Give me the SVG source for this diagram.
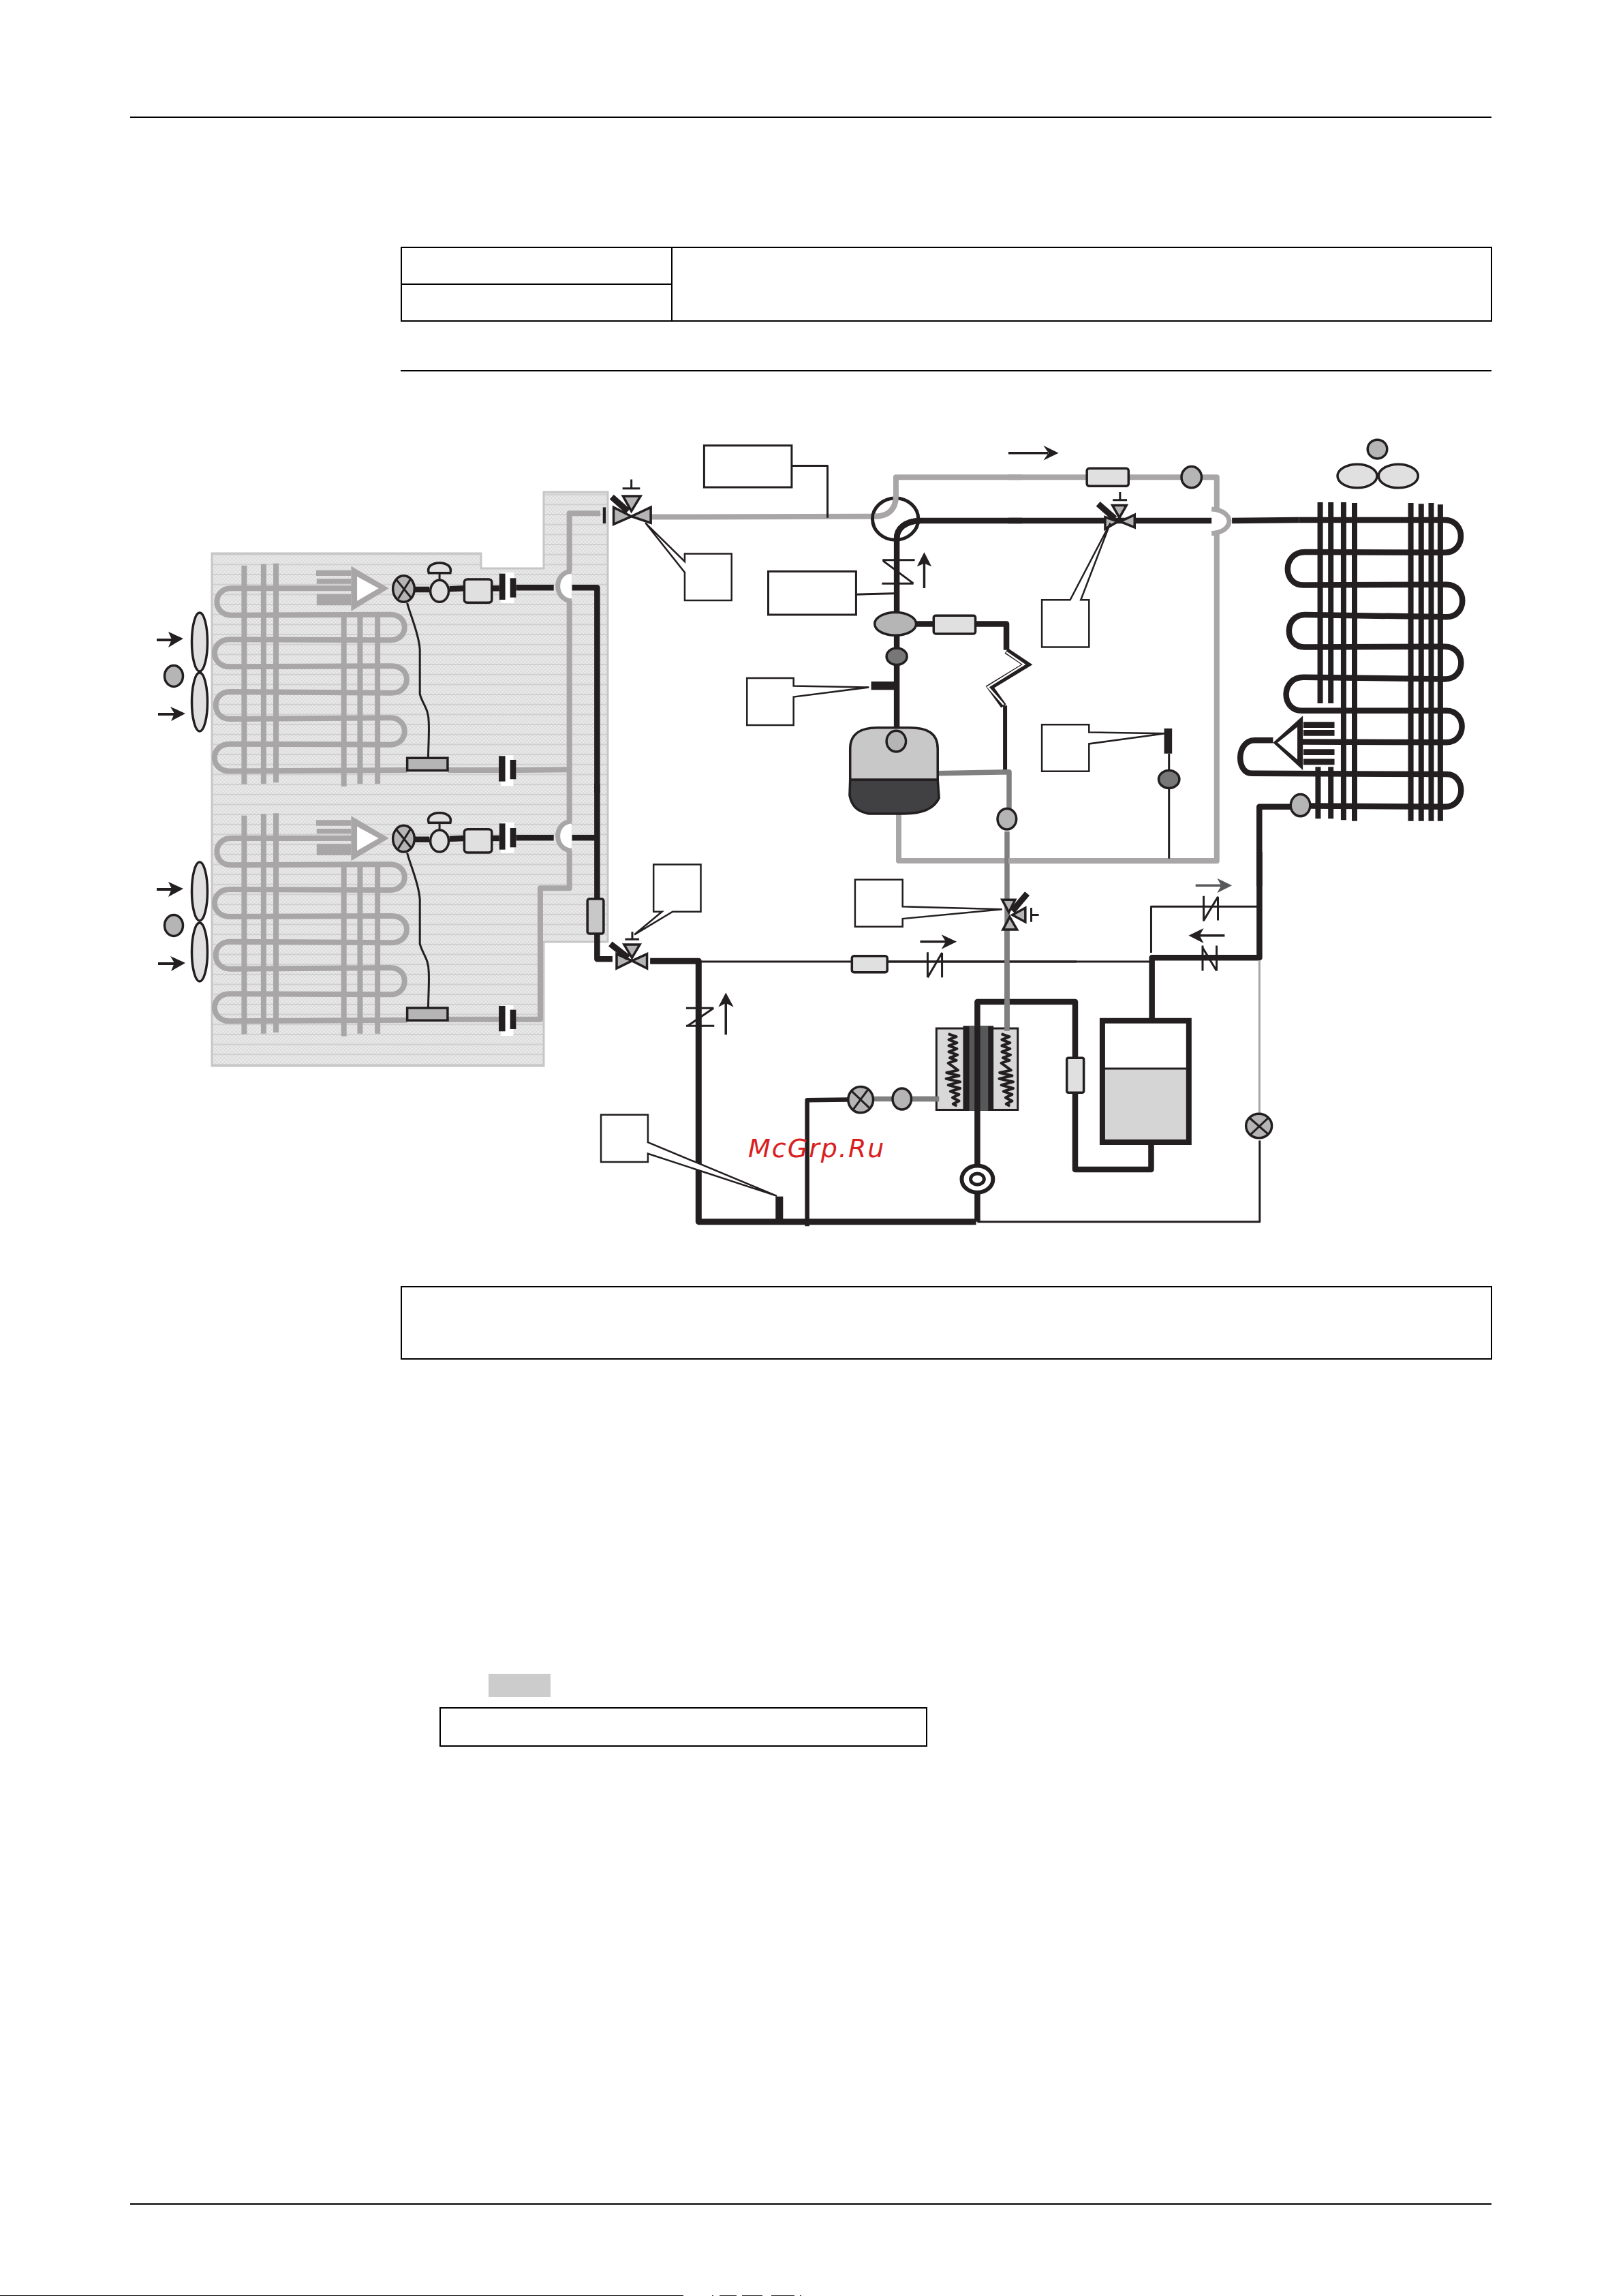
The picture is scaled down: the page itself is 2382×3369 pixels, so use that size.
<svg xmlns="http://www.w3.org/2000/svg" xmlns:xlink="http://www.w3.org/1999/xlink" width="2382" height="3369" viewBox="0 0 2382 3369">
<style>
svg * { vector-effect: non-scaling-stroke; }
.frame { fill: none; stroke: #000; stroke-width: 2; }
.g { fill: none; stroke: #a8a6a6; stroke-width: 8; stroke-linejoin: round; stroke-linecap: butt; }
.gf { stroke: #a8a6a6; stroke-width: 7; fill: #fff; }
.d { fill: none; stroke: #808080; stroke-width: 7.5; stroke-linejoin: round; }
.k { fill: none; stroke: #231f20; stroke-width: 8.5; stroke-linejoin: round; }
.k6 { fill: none; stroke: #231f20; stroke-width: 6; stroke-linejoin: round; }
.t { fill: none; stroke: #231f20; stroke-width: 3; stroke-linejoin: round; }
.fin { stroke: #a8a6a6; stroke-width: 8; fill: none; }
.finb { stroke: #231f20; stroke-width: 8; fill: none; }
.box { fill: #fff; stroke: #231f20; stroke-width: 3; }
.lead { fill: #fff; stroke: #231f20; stroke-width: 2.5; stroke-linejoin: miter; }
.l { fill: #e0e0e0; stroke: #231f20; stroke-width: 3.5; }
.m { fill: #b5b5b5; stroke: #231f20; stroke-width: 3.5; }
.dk { fill: #777; stroke: #231f20; stroke-width: 3.5; }
.fill { fill: #231f20; stroke: none; }
.bar { fill: #231f20; stroke: none; }
.act { stroke: #231f20; stroke-width: 9; fill: none; }
.sym { stroke: #231f20; stroke-width: 3; fill: none; }
.sym2 { stroke: #231f20; stroke-width: 3.5; fill: none; }
.mark { font-family: "DejaVu Sans", sans-serif; font-style: italic; font-size: 38px; fill: #d92020; letter-spacing: 2px; }
</style>
<defs>
  <pattern id="dither" width="2" height="2" patternUnits="userSpaceOnUse">
    <rect width="2" height="2" fill="#f0f0f0"/>
    <rect width="1" height="1" fill="#d6d6d6"/>
    <rect x="1" y="1" width="1" height="1" fill="#d6d6d6"/>
  </pattern>
  <pattern id="bands" width="40" height="14.67" patternUnits="userSpaceOnUse">
    <rect y="6" width="40" height="1.6" fill="#cbcbcf"/>
  </pattern>
  <g id="evap">
    <g class="fin">
      <path d="M173,390V1352M245,383V1350M291,380V1345M543,605V1362M603,605V1350M668,605V1350"/>
    </g>
    <path class="g" d="M590,490 L125,490 C54,490 54,608 125,608 L715,605 C786,605 786,718 715,718 L120,715 C44,715 44,835 120,835 L720,832 C795,832 795,950 720,950 L120,945 C50,945 50,1065 120,1065 L715,1060 C786,1060 786,1178 715,1178 L120,1175 C44,1175 44,1295 120,1295 L778,1290"/>
    <path fill="#a8a6a6" d="M570,392 L710,490 L570,590 Z"/>
    <path fill="#fff" d="M592,438 L672,490 L592,545 Z"/>
    <path fill="#a8a6a6" d="M440,410H570V435H440ZM442,448H570V470H442ZM442,515H570V565H442Z"/>
    <ellipse class="m" cx="765" cy="492" rx="40" ry="58"/>
    <path class="sym" d="M738,452L795,535M790,450L745,535"/>
    <path class="k" d="M805,495 L860,495 M935,493 L990,490"/>
    <ellipse class="l" cx="898" cy="502" rx="34" ry="48"/>
    <path class="sym" d="M898,422V455"/>
    <path class="l" d="M858,422 C850,395 870,378 898,378 C925,378 945,395 938,422 Z"/>
    <rect class="l" x="990" y="450" width="102" height="103" rx="12"/>
    <path class="k" d="M1092,490H1120"/>
    <rect x="1125" y="420" width="50" height="135" fill="#fff"/>
    <rect class="bar" x="1120" y="425" width="22" height="115"/>
    <rect class="bar" x="1160" y="445" width="22" height="85"/>
    <path class="t" d="M778,555 C790,610 822,690 825,760 L825,955 C835,1000 858,1020 858,1080 C860,1130 856,1190 856,1245"/>
    <rect class="m" x="778" y="1237" width="150" height="55"/>
    <rect x="1125" y="1225" width="47" height="135" fill="#fff"/>
    <rect class="bar" x="1118" y="1228" width="24" height="112"/>
    <rect class="bar" x="1160" y="1245" width="22" height="85"/>
  </g>
  <g id="hxcoil">
    <polyline class="k6" style="stroke-width:4" points="232,722 262,733 234,745 264,757 234,769 264,781 234,793 266,805 238,817 262,827 232,838 250,852 268,866 226,876 272,888 224,900 276,912 232,925 276,938 240,950 272,962 248,975 272,988 250,1000 264,1008"/>
  </g>
</defs>

<g id="page-frames">
  <rect x="191" y="171" width="1998" height="2" fill="#000"/>
  <rect x="191" y="3233" width="1998" height="2" fill="#000"/>
  <rect x="0" y="3368" width="1003" height="1" fill="#000"/>
  <path d="M1045,3368.5h2M1056,3368.5h25M1089,3368.5h30M1132,3368.5h34M1174,3368.5h2" stroke="#222" fill="none"/>
  <rect class="frame" x="589" y="363" width="1600" height="108"/>
  <path class="frame" d="M589,417H986M986,363V471"/>
  <rect x="588" y="543" width="1601" height="2" fill="#000"/>
  <rect class="frame" x="589" y="1888" width="1600" height="106"/>
  <rect x="717" y="2456" width="91" height="34" fill="#ccc"/>
  <rect class="frame" x="646" y="2506" width="714" height="56"/>
</g>

<g id="indoor-shading">
  <path fill="url(#dither)" d="M311,812H706V834H798V722H892V1382H798V1564H311Z"/>
  <path fill="url(#bands)" d="M311,812H706V834H798V722H892V1382H798V1564H311Z"/>
  <path fill="none" stroke="#c6c6c6" stroke-width="3" d="M311,812H706V834H798V722H892V1382H798V1564H311Z"/>
</g>

<g id="connectors">
  <g transform="translate(290 700) scale(.3954 .3333)">
    <path class="g" d="M1495,160 L1380,160 L1380,415"/>
    <path class="g" d="M1380,545 L1380,1530"/>
    <path class="g" d="M930,1290 L1118,1290 M1182,1290 L1380,1288"/>
    <path class="k" d="M1182,487 L1322,487"/>
    <path class="k" d="M1390,487 L1483,487 L1483,1390"/>
    <path class="gf" d="M1388,415 C1320,420 1320,540 1388,545"/>
  </g>
  <g transform="translate(290 1150) scale(.3954 .3333)">
    <path class="g" d="M1380,295 L1380,460 L1272,460 L1272,1037 L1182,1037 M1118,1037 L930,1037"/>
    <path class="k" d="M1182,238 L1322,238"/>
    <path class="k" d="M1390,238 L1483,238 M1483,0 L1483,772 L1540,772"/>
    <path class="gf" d="M1388,165 C1320,170 1320,290 1388,295"/>
  </g>
  <path class="g" d="M1319,1190 L1319,1263 L1786,1263"/>
  <g transform="translate(880 620) scale(.3954 .3827)">
    <path class="g" d="M190,362 L1020,360 C1075,360 1100,330 1100,280 L1100,210 L1568,210"/>
    <path class="k" d="M1568,376 L1190,376 C1135,378 1103,405 1103,445 L1103,1170"/>
    <path class="t" d="M713,166 L846,166 L846,365"/>
    <path class="t" d="M955,659 L1095,655"/>
    <path class="k" d="M1175,772 L1240,772 M1395,772 L1510,772 L1510,872"/>
    <path class="k6" d="M1505,1085 L1505,1340"/>
    <path class="d" d="M1255,1345 L1520,1340 L1520,1480"/>
  </g>
  <path fill="none" stroke="#231f20" stroke-width="9" stroke-linejoin="miter" d="M1477,955 L1507,975 L1453,1008 L1473,1036"/>
  <path fill="none" stroke="#fff" stroke-width="2.5" stroke-linejoin="miter" d="M1477,957 L1503,975 L1450,1008 L1473,1034"/>
  <path class="d" d="M1478,1220 L1478,1513"/>
  <g transform="translate(1480 620) scale(.4464 .4337)">
    <path class="g" d="M0,185 L685,185 L685,293 M685,375 L685,1483 L0,1483"/>
    <path class="k" d="M0,332 L672,332 M735,332 L955,330"/>
    <path class="gf" style="stroke-width:7" d="M668,293 C745,298 745,370 668,375"/>
    <path class="t" d="M528,1120 L528,1475"/>
    <path class="k" d="M930,1300 L825,1300 L825,1568"/>
  </g>
  <g transform="translate(860 1250) scale(.4592 .3699)">
    <path class="k" style="stroke-width:9" d="M205,433 L360,433 L360,1467 L1247,1467"/>
    <path class="t" d="M360,435 L1568,435"/>
    <path class="k" style="stroke-width:6.5" d="M707,1485 L707,985 L838,983"/>
    <path class="d" d="M918,980 L1130,980"/>
  </g>
  <g transform="translate(1300 1250) scale(.3954 .3699)">
    <path class="t" d="M0,435 L985,435"/>
    <path class="k" d="M1387,0 L1387,420 L988,420 L988,670"/>
    <path class="t" d="M985,400 L985,217 L1380,217"/>
    <path style="fill:none;stroke:#a8a6a6;stroke-width:3" d="M1387,430 L1387,1040"/>
    <path class="t" d="M1388,1145 L1388,1467 L340,1467"/>
    <path class="k" d="M340,1350 L340,1467"/>
    <path class="k" d="M340,1240 L340,595 L703,595 L703,815 M703,955 L703,1260 L985,1260 L985,1160"/>
    <path class="d" d="M450,308 L450,710"/>
  </g>
</g>

<g id="evaporator-1" transform="translate(290 700) scale(.3954 .3333)"><use href="#evap"/></g>
<g id="evaporator-2" transform="translate(290 1066.67) scale(.3954 .3333)"><use href="#evap"/></g>

<g id="fans-indoor-1">
  <ellipse class="l" cx="293" cy="942" rx="11.5" ry="43"/>
  <ellipse class="l" cx="293" cy="1030" rx="11.5" ry="43"/>
  <ellipse class="m" cx="255" cy="992" rx="13.5" ry="15.5"/>
  <path class="k" style="stroke-width:4" d="M230,939H258M232,1048H260"/>
  <path class="fill" d="M247,927L269,937L247,950L252,938ZM250,1037L272,1047L251,1058L256,1047Z"/>
</g>
<g id="fans-indoor-2">
  <ellipse class="l" cx="293" cy="1308" rx="11.5" ry="43"/>
  <ellipse class="l" cx="293" cy="1397" rx="11.5" ry="43"/>
  <ellipse class="m" cx="255" cy="1358" rx="13.5" ry="15.5"/>
  <path class="k" style="stroke-width:4" d="M230,1305H258M232,1414H260"/>
  <path class="fill" d="M247,1294L269,1304L247,1316L252,1304ZM250,1403L272,1413L251,1425L256,1413Z"/>
</g>

<g id="jumper-top" transform="translate(880 620) scale(.3954 .3827)">
  <rect class="bar" x="12" y="325" width="11" height="62"/>
</g>
<g id="filter-left" transform="translate(290 1150) scale(.3954 .3333)">
  <rect class="m" style="fill:#c8c8c8" x="1447" y="507" width="60" height="153" rx="8"/>
</g>

<g id="valve-gas-stop" transform="translate(880 620) scale(.3954 .3827)">
  <path class="m" d="M52,325 L52,390 L118,360 Z M190,325 L190,385 L118,360 Z M87,282 L152,282 L118,340 Z"/>
  <path class="act" d="M45,285 L105,340"/>
  <path class="sym" d="M85,253H150M118,218V253"/>
</g>
<g id="label-box-1" transform="translate(880 620) scale(.3954 .3827)">
  <rect class="box" x="388" y="88" width="325" height="160"/>
</g>
<g id="callout-1" transform="translate(880 620) scale(.3954 .3827)">
  <path class="lead" d="M170,385 L316,533 L316,503 L490,503 L490,682 L316,682 L316,575 Z"/>
</g>
<g id="four-way-valve" transform="translate(880 620) scale(.3954 .3827)">
  <ellipse fill="none" stroke="#231f20" stroke-width="5" cx="1098" cy="370" rx="85" ry="80"/>
  <path class="g" d="M1020,360 C1075,360 1100,330 1100,280"/>
  <path class="k" d="M1190,376 C1135,378 1103,405 1103,445"/>
</g>
<g id="check-valve-a" transform="translate(880 620) scale(.3954 .3827)">
  <path class="sym" d="M1050,527H1170M1048,617H1165M1052,530L1165,617"/>
  <path class="sym2" d="M1205,635V530"/>
  <path class="fill" d="M1178,552L1205,497L1232,552L1205,540Z"/>
</g>
<g id="label-box-2" transform="translate(880 620) scale(.3954 .3827)">
  <rect class="box" x="626" y="571" width="326" height="166"/>
</g>
<g id="oil-separator" transform="translate(880 620) scale(.3954 .3827)">
  <ellipse class="m" cx="1098" cy="772" rx="77" ry="44"/>
</g>
<g id="capillary-filter" transform="translate(880 620) scale(.3954 .3827)">
  <rect class="l" x="1240" y="740" width="155" height="70" rx="8"/>
</g>
<g id="sensor-a" transform="translate(880 620) scale(.3954 .3827)">
  <ellipse class="dk" cx="1103" cy="897" rx="38" ry="32"/>
</g>
<g id="switch-a" transform="translate(880 620) scale(.3954 .3827)">
  <rect class="bar" x="1008" y="993" width="92" height="32"/>
  <path class="lead" d="M547,980 L720,980 L720,1010 L1000,1015 L720,1052 L720,1160 L547,1160 Z"/>
</g>
<g id="accumulator" transform="translate(880 620) scale(.3954 .3827)">
  <path fill="#c8c8c8" stroke="#231f20" stroke-width="3.5" d="M930,1370 L930,1250 C930,1190 975,1170 1030,1170 L1150,1170 C1215,1170 1255,1190 1255,1250 L1255,1370 Z"/>
  <path fill="#414042" stroke="#231f20" stroke-width="3.5" d="M930,1370 L1255,1370 L1260,1440 C1240,1485 1190,1500 1130,1500 L1000,1500 C950,1490 935,1465 928,1430 Z"/>
  <ellipse class="m" cx="1101" cy="1222" rx="36" ry="40"/>
</g>
<g id="sensor-b" transform="translate(880 620) scale(.3954 .3827)">
  <ellipse class="m" cx="1512" cy="1520" rx="35" ry="40"/>
</g>

<g id="arrow-top" transform="translate(1480 620) scale(.4464 .4337)">
  <path class="sym2" d="M0,103H130"/>
  <path class="fill" d="M115,78L165,103L115,128L132,103Z"/>
</g>
<g id="filter-top" transform="translate(1480 620) scale(.4464 .4337)">
  <rect class="l" x="258" y="155" width="137" height="60" rx="8"/>
</g>
<g id="sensor-c" transform="translate(1480 620) scale(.4464 .4337)">
  <ellipse class="m" cx="602" cy="185" rx="33" ry="36"/>
</g>
<g id="valve-solenoid" transform="translate(1480 620) scale(.4464 .4337)">
  <path class="m" d="M342,280 L388,280 L365,322 Z M415,312 L415,355 L368,335 Z M318,320 L318,360 L360,335 Z"/>
  <path class="act" d="M295,275 L350,325"/>
  <path class="sym" d="M343,262H390M367,235V262"/>
</g>
<g id="callout-2" transform="translate(1480 620) scale(.4464 .4337)">
  <path class="lead" d="M335,340 L203,600 L110,600 L110,760 L265,760 L265,600 L238,600 Z"/>
</g>
<g id="callout-3" transform="translate(1480 620) scale(.4464 .4337)">
  <path class="lead" d="M110,1022 L265,1022 L265,1048 L515,1052 L265,1087 L265,1180 L110,1180 Z"/>
</g>
<g id="switch-b" transform="translate(1480 620) scale(.4464 .4337)">
  <rect class="bar" x="512" y="1035" width="26" height="85"/>
  <ellipse class="dk" cx="528" cy="1207" rx="34" ry="30"/>
</g>
<g id="fan-outdoor" transform="translate(1480 620) scale(.4464 .4337)">
  <ellipse class="l" cx="1147" cy="181" rx="65" ry="40"/>
  <ellipse class="l" cx="1282" cy="181" rx="65" ry="40"/>
  <ellipse class="m" cx="1213" cy="90" rx="32" ry="32"/>
</g>
<g id="condenser" transform="translate(1480 620) scale(.4464 .4337)">
  <path class="finb" d="M1025,270V950M1060,270V950M1102,270V1345M1138,272V1348M1323,272V1348M1357,275V1348M1390,272V1348M1420,277V1348M1018,1165V1340M1060,1165V1340"/>
  <path class="k" d="M955,330 L1435,330 C1505,330 1505,440 1435,440 L975,438 C900,438 900,550 970,550 L1440,548 C1510,548 1510,658 1440,658 L975,650 C905,650 905,760 975,760 L1435,758 C1506,758 1506,868 1435,868 L970,862 C895,862 895,975 965,975 L1440,975 C1508,975 1508,1082 1440,1082 L965,1080"/>
  <path class="k" d="M870,1075 L810,1075 C748,1075 748,1187 800,1187 L1440,1190 C1505,1190 1505,1300 1435,1300 L990,1297"/>
  <path fill="#231f20" d="M870,1083 L968,992 L968,1176 Z"/>
  <path fill="#fff" d="M885,1083 L950,1030 L950,1140 Z"/>
  <path class="fill" d="M970,1013H1072V1033H970ZM970,1040H1072V1060H970ZM970,1105H1072V1125H970ZM970,1138H1072V1158H970Z"/>
  <ellipse class="m" cx="960" cy="1295" rx="32" ry="37"/>
</g>

<g id="valve-liquid-stop" transform="translate(860 1250) scale(.4592 .3699)">
  <path class="m" d="M122,368 L172,368 L147,420 Z M98,405 L98,462 L147,432 Z M195,405 L195,462 L147,432 Z"/>
  <path class="act" d="M78,365 L135,420"/>
  <path class="sym" d="M125,347H170M148,317V347"/>
</g>
<g id="callout-4" transform="translate(860 1250) scale(.4592 .3699)">
  <path class="lead" d="M155,328 L243,237 L216,237 L216,50 L367,50 L367,237 L277,237 Z"/>
</g>
<g id="filter-liquid" transform="translate(860 1250) scale(.4592 .3699)">
  <rect class="l" x="850" y="413" width="113" height="65" rx="8"/>
</g>
<g id="check-valve-b" transform="translate(860 1250) scale(.4592 .3699)">
  <path class="sym" d="M1092,398V498M1138,400V498M1092,498L1138,400"/>
  <path class="sym2" d="M1068,356H1150"/>
  <path class="fill" d="M1136,328L1185,356L1136,386L1150,356Z"/>
</g>
<g id="check-valve-c" transform="translate(860 1250) scale(.4592 .3699)">
  <path class="sym" d="M320,620H408M320,690H410M408,620L325,690"/>
  <path class="sym2" d="M447,725V590"/>
  <path class="fill" d="M423,616L447,558L472,616L447,600Z"/>
</g>
<g id="switch-c" transform="translate(860 1250) scale(.4592 .3699)">
  <rect class="bar" x="606" y="1367" width="24" height="100"/>
</g>
<g id="callout-5" transform="translate(860 1250) scale(.4592 .3699)">
  <path class="lead" d="M610,1365 L198,1152 L198,1043 L48,1043 L48,1230 L198,1230 L198,1197 Z"/>
</g>
<g id="expansion-valve-sub" transform="translate(860 1250) scale(.4592 .3699)">
  <ellipse class="m" cx="878" cy="983" rx="40" ry="52"/>
  <path class="sym" d="M850,950L905,1015M900,945L855,1020"/>
</g>
<g id="sensor-d" transform="translate(860 1250) scale(.4592 .3699)">
  <ellipse class="m" cx="1010" cy="980" rx="30" ry="42"/>
</g>
<g id="callout-6" transform="translate(860 1250) scale(.4592 .3699)">
  <path class="lead" d="M860,110 L1012,110 L1012,217 L1330,228 L1012,265 L1012,297 L860,297 Z"/>
</g>

<g id="valve-suction" transform="translate(1300 1250) scale(.3954 .3699)">
  <path class="m" d="M432,190 L480,190 L457,240 Z M435,308 L487,308 L460,258 Z M518,222 L518,278 L470,250 Z"/>
  <path class="act" d="M470,235 L525,165"/>
  <path class="sym" d="M540,222V278M540,250H568"/>
</g>
<g id="heat-exchanger" transform="translate(1300 1250) scale(.3954 .3699)">
  <rect x="188" y="700" width="302" height="323" fill="#d8d8d8" stroke="#231f20" stroke-width="3"/>
  <rect x="287" y="690" width="113" height="337" fill="#231f20"/>
  <rect x="310" y="690" width="70" height="337" fill="#58585a"/>
  <path class="k" d="M340,690 L340,1027"/>
  <path class="d" d="M450,590 L450,710 M100,980 L198,980"/>
  <use href="#hxcoil"/>
  <use href="#hxcoil" transform="translate(197 0)"/>
</g>
<g id="filter-receiver" transform="translate(1300 1250) scale(.3954 .3699)">
  <rect class="l" x="672" y="817" width="63" height="138" rx="6"/>
</g>
<g id="receiver" transform="translate(1300 1250) scale(.3954 .3699)">
  <rect x="804" y="670" width="321" height="190" fill="#fff"/>
  <rect x="804" y="860" width="321" height="292" fill="#d5d5d5"/>
  <path class="t" d="M804,860H1125"/>
  <rect x="804" y="670" width="321" height="482" fill="none" stroke="#231f20" stroke-width="8"/>
</g>
<g id="compressor" transform="translate(1300 1250) scale(.3954 .3699)">
  <ellipse cx="340" cy="1298" rx="58" ry="53" fill="#fff" stroke="#231f20" stroke-width="6"/>
  <ellipse cx="340" cy="1298" rx="25" ry="22" fill="#fff" stroke="#231f20" stroke-width="5"/>
</g>
<g id="check-valve-d" transform="translate(1300 1250) scale(.3954 .3699)">
  <path class="sym" d="M1180,175V275M1233,178V272M1180,272L1233,178"/>
  <path style="fill:none;stroke:#58595b;stroke-width:3.5" d="M1150,133H1245"/>
  <path fill="#58595b" d="M1230,105L1285,133L1230,163L1245,133Z"/>
</g>
<g id="check-valve-e" transform="translate(1300 1250) scale(.3954 .3699)">
  <path class="sym" d="M1176,372V472M1228,372V472M1176,380L1228,472"/>
  <path class="sym2" d="M1258,332H1160"/>
  <path class="fill" d="M1180,303L1124,332L1180,362L1165,332Z"/>
</g>
<g id="expansion-valve-main" transform="translate(1300 1250) scale(.3954 .3699)">
  <ellipse class="m" cx="1385" cy="1087" rx="48" ry="48"/>
  <path class="sym" d="M1350,1055L1420,1120M1420,1055L1355,1120"/>
</g>

<text class="mark" x="1098" y="1698">McGrp.Ru</text>
</svg>
